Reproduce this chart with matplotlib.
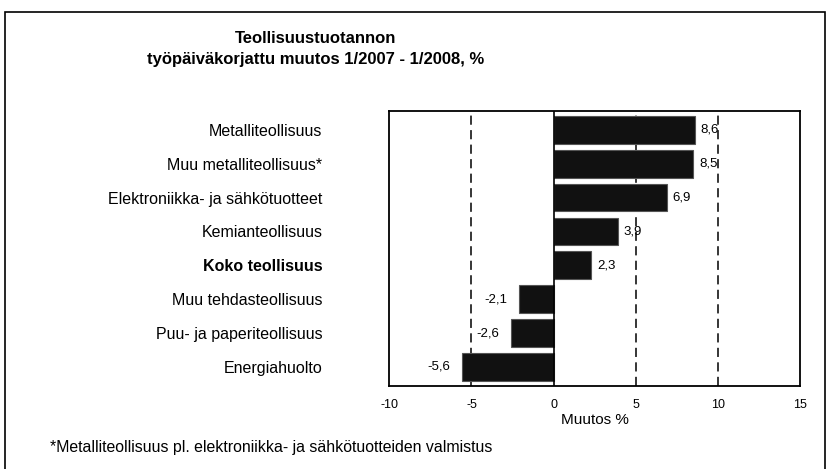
import matplotlib
matplotlib.use("Agg")
import matplotlib.pyplot as plt
import matplotlib.patches as mp

plt.rcParams["font.family"] = ["Liberation Sans", "DejaVu Sans"]

categories = ["Metalliteollisuus", "Muu metalliteollisuus*", "Elektroniikka- ja sähkötuotteet",
              "Kemianteollisuus", "Koko teollisuus", "Muu tehdasteollisuus",
              "Puu- ja paperiteollisuus", "Energiahuolto"]
values = [8.6, 8.5, 6.9, 3.9, 2.3, -2.1, -2.6, -5.6]
xticks = [-10, -5, 0, 5, 10, 15]
grid_at = [-5, 5, 10]

fig = plt.figure(figsize=(8.3, 4.69), dpi=100)
fig.patches.append(mp.Rectangle((0.006, -0.01), 0.988, 0.985, transform=fig.transFigure,
                                fill=False, ec="black", lw=1.2))
ax = fig.add_axes([0.469, 0.178, 0.495, 0.585])

y = list(range(len(categories)))
ax.barh(y, values, height=0.82, color="#111111", edgecolor="#555555", lw=0.8, zorder=3)
for g in grid_at:
    ax.axvline(g, color="black", ls=(0, (6, 3.5)), lw=1.1, zorder=2)
ax.axvline(0, color="black", lw=1.2, zorder=4)
for yi, v in zip(y, values):
    lbl = f"{v:.1f}".replace(".", ",")
    if v >= 0:
        ax.text(v + 0.35, yi, lbl, va="center", ha="left", fontsize=9.5)
    else:
        ax.text(v - 0.7, yi, lbl, va="center", ha="right", fontsize=9.5)

ax.set_xlim(-10, 15)
ax.set_ylim(len(categories) - 0.45, -0.55)
ax.set_xticks(xticks)
ax.set_xticklabels([str(t) for t in xticks], fontsize=9)
ax.tick_params(axis="x", length=0, pad=10)
ax.set_yticks(y)
ax.set_yticklabels(categories, fontsize=11.5)
ax.tick_params(axis="y", length=0, pad=48)
for t in ax.get_yticklabels():
    if t.get_text() == "Koko teollisuus":
        t.set_fontweight("bold")
for s in ax.spines.values():
    s.set_linewidth(1.3)
ax.set_xlabel("Muutos %", fontsize=11, labelpad=1)

fig.text(0.38, 0.895, "Teollisuustuotannon\ntyöpäiväkorjattu muutos 1/2007 - 1/2008, %",
         ha="center", va="center", fontsize=12, fontweight="bold", linespacing=1.5)
fig.text(0.06, 0.045, "*Metalliteollisuus pl. elektroniikka- ja sähkötuotteiden valmistus",
         ha="left", va="center", fontsize=11.4)

fig.savefig("out.png", dpi=100, facecolor="white")
